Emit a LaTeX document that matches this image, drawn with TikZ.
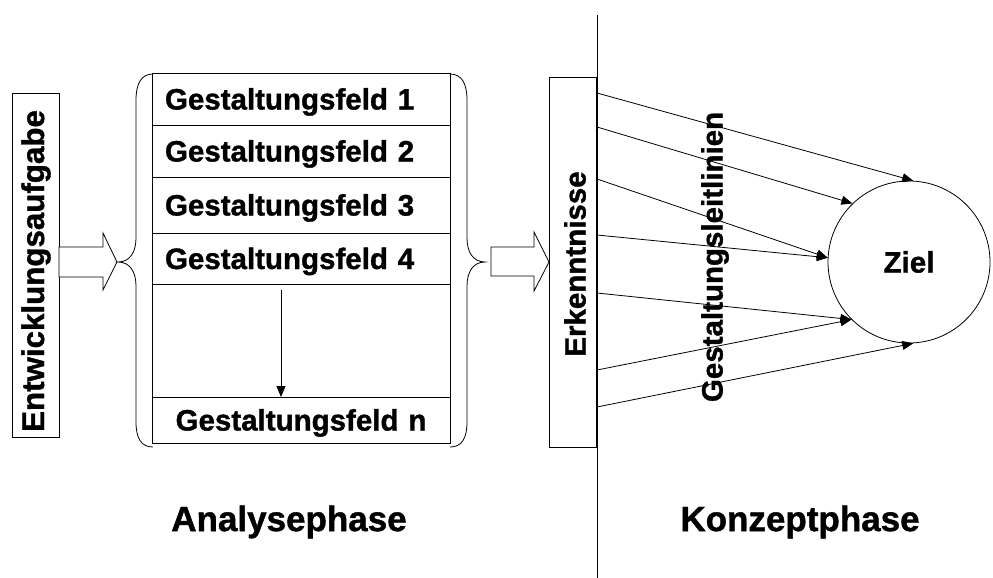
\documentclass[tikz,border=0pt]{standalone}
\usepackage{fontspec}
\setmainfont{Liberation Sans}[BoldFeatures={FakeBold=1.2}]
\usetikzlibrary{arrows.meta,calc}
\tikzset{
  lbl/.style={font=\fontsize{29.5}{32}\selectfont\bfseries},
  big/.style={font=\fontsize{35}{38}\selectfont\bfseries},
  row/.style={draw, line width=0.8pt, rectangle, minimum width=298pt, inner xsep=13pt, inner ysep=0pt,
     text width=272pt, text height=21pt, text depth=0pt, lbl},
  vbox/.style={draw, line width=0.8pt, rectangle, minimum width=47pt, inner sep=0pt},
  thin/.style={line width=0.8pt},
  arr/.style={line width=0.8pt, -{Triangle[length=11pt,width=9pt]}},
  blockarrow/.style={draw, line width=0.8pt, fill=white, line join=miter},
  bracestyle/.style={draw, line width=0.8pt}
}
\begin{document}
\begin{tikzpicture}[x=1pt, y=-1pt]
\useasboundingbox (0,0) rectangle (993,578);

% left box
\node[vbox, minimum height=344pt] (ent) at (35.5,265) {};
\node[lbl, rotate=90, font=\fontsize{31.3}{33}\selectfont\bfseries] (entt) at (36,271) {Entwicklungsaufgabe};

% block arrow 1
\draw[blockarrow] (59,247) -- (103,247) -- (103,233) -- (117,262) -- (103,290) -- (103,277) -- (59,277) -- cycle;

% rows
\node[row, minimum height=52pt, align=left] (g1) at (301,99) {Gestaltungsfeld 1};
\node[row, minimum height=52pt, align=left] (g2) at (301,151) {Gestaltungsfeld 2};
\node[row, minimum height=56pt, align=left] (g3) at (301,205) {Gestaltungsfeld 3};
\node[row, minimum height=51pt, align=left] (g4) at (301,258.5) {Gestaltungsfeld 4};
\node[row, minimum height=113pt] (gempty) at (301,340.5) {};
\node[row, minimum height=46pt, align=center] (gn) at (301,420) {Gestaltungsfeld n};

\coordinate (inA) at (281,290);
\coordinate (inB) at (281,397);
\draw[arr] (inA) -- (inB);

% braces
\draw[bracestyle] (153,74) .. controls (141,74) and (136,84) .. (136,100) -- (136,238)
  .. controls (136,252) and (130,262) .. (118,262)
  .. controls (130,262) and (136,272) .. (136,286) -- (136,422)
  .. controls (136,438) and (141,447) .. (153,447);
\draw[bracestyle] (450,74) .. controls (462,74) and (467,84) .. (467,100) -- (467,238)
  .. controls (467,252) and (473,262) .. (485,262)
  .. controls (473,262) and (467,272) .. (467,286) -- (467,422)
  .. controls (467,438) and (462,447) .. (450,447);

% block arrow 2
\draw[blockarrow] (491,247) -- (534,247) -- (534,232) -- (549,262) -- (534,291) -- (534,276) -- (491,276) -- cycle;

% Erkenntnisse
\node[vbox, minimum height=370pt] (erk) at (572.5,262) {};
\node[lbl, rotate=90] (erkt) at (575,264) {Erkenntnisse};

% vertical divider
\coordinate (vtop) at (597,15);
\coordinate (vbot) at (597,578);
\draw[thin] (vtop) -- (vbot);

% Ziel
\node[draw, thin, circle, minimum size=162pt, inner sep=0pt, lbl] (ziel) at (909,262) {Ziel};

% arrows to Ziel
\coordinate (s1) at (597,93);
\coordinate (s2) at (597,127);
\coordinate (s3) at (597,179);
\coordinate (s4) at (597,235);
\coordinate (s5) at (597,293);
\coordinate (s6) at (597,370);
\coordinate (s7) at (597,407);
\draw[arr] (s1) -- (ziel.87);
\draw[arr] (s2) -- (ziel.134);
\draw[arr] (s3) -- (ziel.177);
\draw[arr] (s4) -- (ziel.177);
\draw[arr] (s5) -- (ziel.225);
\draw[arr] (s6) -- (ziel.225);
\draw[arr] (s7) -- (ziel.273);

\node[lbl, rotate=90] (leit) at (715,257) {Gestaltungsleitlinien};

% phases
\node[big] (ana) at (289,522) {Analysephase};
\node[big] (konz) at (800,522) {Konzeptphase};
\end{tikzpicture}
\end{document}
